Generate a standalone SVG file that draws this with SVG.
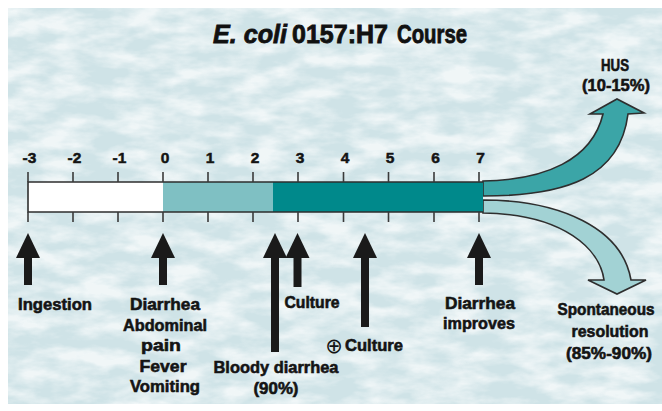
<svg xmlns="http://www.w3.org/2000/svg" width="662" height="411" viewBox="0 0 662 411">
<style>
  .lbl { font-family: "Liberation Sans", Arial, sans-serif; font-weight: bold; font-size: 17px; fill: #141414; stroke: #141414; stroke-width: 0.6; text-anchor: middle; }
  .num { font-family: "Liberation Sans", Arial, sans-serif; font-weight: bold; font-size: 15.5px; fill: #141414; stroke: #141414; stroke-width: 0.5; text-anchor: middle; }
  .ttl { font-family: "Liberation Sans", Arial, sans-serif; font-weight: bold; font-size: 25px; fill: #111; stroke: #111; stroke-width: 0.8; }
  .tick { stroke: #3a3a3a; stroke-width: 1.6; }
  .band { stroke: #2e2e2e; stroke-width: 1.6; stroke-linejoin: miter; }
  .conn { stroke: #1a1a1a; stroke-width: 8; fill: none; marker-end: url(#head); }
</style>
<defs>
  <marker id="head" viewBox="0 0 25 24" refX="0" refY="12" markerWidth="25" markerHeight="24" markerUnits="userSpaceOnUse" orient="auto">
    <path d="M0,0 L25,12 L0,24 Z" fill="#1a1a1a"/>
  </marker>
  <filter id="tex" x="0" y="0" width="100%" height="100%">
    <feTurbulence type="fractalNoise" baseFrequency="0.025 0.06" numOctaves="4" seed="11"/>
    <feColorMatrix type="matrix" values="0 0 0 0 1  0 0 0 0 1  0 0 0 0 1  2.4 0 0 0 -0.8"/>
  </filter>
</defs>

<g id="background">
  <rect x="8" y="8" width="654" height="396" fill="#cfe3e7"/>
  <rect x="8" y="8" width="654" height="396" filter="url(#tex)" opacity="0.7"/>
</g>

<g id="title">
  <text class="ttl" x="213" y="43" font-style="italic" textLength="74" lengthAdjust="spacingAndGlyphs">E. coli</text>
  <text class="ttl" x="292" y="43" textLength="96" lengthAdjust="spacingAndGlyphs">0157:H7</text>
  <text class="ttl" x="397" y="43" textLength="70" lengthAdjust="spacingAndGlyphs">Course</text>
</g>

<g id="timeline">
  <path class="band" d="M483,181 C545,180 592,160 603,114 L590,114 L617,99 L644,113 L628,114 C620,178 565,196 483,196 Z" fill="#3ba5a7"/>
  <path class="band" d="M483,200 C560,200 622,228 631,280 L646,280 L617,294 L588,280 L604,280 C600,250 565,214 483,213 Z" fill="#a2d2d4"/>
  <rect x="28" y="182" width="135" height="30" fill="#ffffff"/>
  <rect x="163" y="182" width="110" height="30" fill="#7fc0c3"/>
  <rect x="273" y="182" width="210" height="30" fill="#00898b"/>
  <path d="M483,182 L28,182 L28,212 L483,212" fill="none" stroke="#2e2e2e" stroke-width="1.6"/>
  <g class="tick">
    <line x1="28" y1="172" x2="28" y2="182"/><line x1="28" y1="212" x2="28" y2="222"/>
    <line x1="73" y1="172" x2="73" y2="182"/><line x1="73" y1="212" x2="73" y2="222"/>
    <line x1="118" y1="172" x2="118" y2="182"/><line x1="118" y1="212" x2="118" y2="222"/>
    <line x1="163" y1="172" x2="163" y2="182"/><line x1="163" y1="212" x2="163" y2="222"/>
    <line x1="208" y1="172" x2="208" y2="182"/><line x1="208" y1="212" x2="208" y2="222"/>
    <line x1="253" y1="172" x2="253" y2="182"/><line x1="253" y1="212" x2="253" y2="222"/>
    <line x1="298" y1="172" x2="298" y2="182"/><line x1="298" y1="212" x2="298" y2="222"/>
    <line x1="343.5" y1="172" x2="343.5" y2="182"/><line x1="343.5" y1="212" x2="343.5" y2="222"/>
    <line x1="388.5" y1="172" x2="388.5" y2="182"/><line x1="388.5" y1="212" x2="388.5" y2="222"/>
    <line x1="434" y1="172" x2="434" y2="182"/><line x1="434" y1="212" x2="434" y2="222"/>
    <line x1="479" y1="172" x2="479" y2="182"/><line x1="479" y1="212" x2="479" y2="222"/>
  </g>
  <text class="num" x="29.5" y="163">-3</text>
  <text class="num" x="74.5" y="163">-2</text>
  <text class="num" x="119.5" y="163">-1</text>
  <text class="num" x="165" y="163">0</text>
  <text class="num" x="210" y="163">1</text>
  <text class="num" x="255" y="163">2</text>
  <text class="num" x="300" y="163">3</text>
  <text class="num" x="345" y="163">4</text>
  <text class="num" x="390" y="163">5</text>
  <text class="num" x="435.5" y="163">6</text>
  <text class="num" x="480.5" y="163">7</text>
</g>

<g id="connectors">
  <line class="conn" x1="28" y1="285" x2="28" y2="258"/>
  <line class="conn" x1="163" y1="285" x2="163" y2="258"/>
  <line class="conn" x1="275" y1="352" x2="275" y2="258"/>
  <line class="conn" x1="297.5" y1="287" x2="297.5" y2="258"/>
  <line class="conn" x1="365" y1="327" x2="365" y2="258"/>
  <line class="conn" x1="479" y1="285" x2="479" y2="258"/>
</g>

<g id="hus">
  <text class="lbl" x="615" y="71" textLength="28" lengthAdjust="spacingAndGlyphs">HUS</text>
  <text class="lbl" x="616" y="91" textLength="68" lengthAdjust="spacingAndGlyphs">(10-15%)</text>
</g>

<g id="spontaneous-resolution">
  <text class="lbl" x="606" y="315" font-size="16" textLength="97" lengthAdjust="spacingAndGlyphs">Spontaneous</text>
  <text class="lbl" x="610" y="337" textLength="77" lengthAdjust="spacingAndGlyphs">resolution</text>
  <text class="lbl" x="609" y="359" textLength="86" lengthAdjust="spacingAndGlyphs">(85%-90%)</text>
</g>

<g id="ingestion">
  <text class="lbl" x="55" y="310" textLength="74" lengthAdjust="spacingAndGlyphs">Ingestion</text>
</g>

<g id="symptoms">
  <text class="lbl" x="165" y="310" textLength="70" lengthAdjust="spacingAndGlyphs">Diarrhea</text>
  <text class="lbl" x="165" y="330.5" textLength="84" lengthAdjust="spacingAndGlyphs">Abdominal</text>
  <text class="lbl" x="161" y="351" textLength="40" lengthAdjust="spacingAndGlyphs">pain</text>
  <text class="lbl" x="163" y="371.5" textLength="47" lengthAdjust="spacingAndGlyphs">Fever</text>
  <text class="lbl" x="165" y="392" textLength="70" lengthAdjust="spacingAndGlyphs">Vomiting</text>
</g>

<g id="bloody-diarrhea">
  <text class="lbl" x="276" y="373" textLength="125" lengthAdjust="spacingAndGlyphs">Bloody diarrhea</text>
  <text class="lbl" x="276" y="394" textLength="45" lengthAdjust="spacingAndGlyphs">(90%)</text>
</g>

<g id="culture">
  <text class="lbl" x="312" y="308" textLength="55" lengthAdjust="spacingAndGlyphs">Culture</text>
</g>

<g id="positive-culture">
  <text x="334" y="352.5" font-family="DejaVu Sans, sans-serif" font-size="21" fill="#141414" text-anchor="middle">⊕</text>
  <text class="lbl" x="374" y="351" textLength="58" lengthAdjust="spacingAndGlyphs">Culture</text>
</g>

<g id="diarrhea-improves">
  <text class="lbl" x="480" y="309" textLength="70" lengthAdjust="spacingAndGlyphs">Diarrhea</text>
  <text class="lbl" x="479" y="329" textLength="72" lengthAdjust="spacingAndGlyphs">improves</text>
</g>
</svg>
